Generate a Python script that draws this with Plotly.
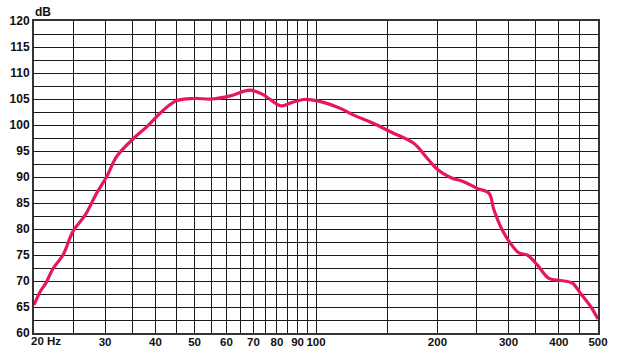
import numpy as np
import plotly.graph_objects as go

freq_hz = [20, 20.7, 21.4, 22.3, 23.6, 25.0, 26.8, 28.6, 30.3, 32.1, 35.3, 38.1,
           41.9, 45.2, 49.7, 55.2, 61.3, 68.7, 74.1, 81.6, 86.3, 93.2, 101.5,
           114.9, 124, 139, 152.9, 174.7, 188.6, 199.7, 215.4, 232.4, 251, 268.2,
           276, 289.5, 303.6, 318.3, 334, 353.6, 377.8, 404, 431.8, 452.7, 479.4, 500]
level_db = [65.4, 67.9, 69.6, 72.4, 75.0, 79.6, 82.7, 86.9, 90.1, 94.0, 97.4, 99.7,
            102.9, 104.7, 105.1, 105.0, 105.6, 106.7, 105.8, 103.7, 104.2, 104.9, 104.6,
            103.2, 101.9, 100.3, 98.7, 96.5, 93.6, 91.5, 89.9, 89.1, 87.8, 86.9,
            83.7, 79.8, 77.2, 75.4, 75.0, 73.1, 70.5, 70.1, 69.6, 67.6, 65.1, 62.7]

x_tick_vals = [30, 40, 50, 60, 70, 80, 90, 100, 200, 300, 400, 500]
x_tick_text = ["30", "40", "50", "60", "70", "80", "90", "100", "200", "300", "400", "500"]
x_minor_vals = [20, 25, 35, 45, 55, 65, 75, 85, 95, 150, 250, 350, 450]
y_tick_vals = list(range(60, 121, 5))

line_color = "#E8175D"
grid_color = "#1a1a1a"
font = dict(family="Liberation Sans, Arial, sans-serif", size=12, color="#111")
xfont = dict(family="Liberation Sans, Arial, sans-serif", size=11.5, color="#111")

fig = go.Figure()
fig.add_trace(go.Scatter(x=freq_hz, y=level_db, mode="lines",
                         line=dict(color=line_color, width=3.2, shape="spline", smoothing=1.0),
                         hoverinfo="skip", showlegend=False))

fig.update_layout(
    width=617, height=349,
    margin=dict(l=34, r=19, t=21, b=16),
    paper_bgcolor="white", plot_bgcolor="white",
    font=font,
    xaxis=dict(type="log", range=[np.log10(20), np.log10(500)],
               tickvals=x_tick_vals, ticktext=["<b>%s</b>" % t for t in x_tick_text],
               tickangle=0, automargin=False, ticklabelstandoff=-3,
               showgrid=True, gridcolor=grid_color, gridwidth=1,
               minor=dict(tickvals=x_minor_vals, showgrid=True, gridcolor=grid_color, gridwidth=1),
               showline=True, linecolor="#333", linewidth=2, mirror=True,
               ticks="", zeroline=False, tickfont=xfont),
    yaxis=dict(range=[60, 120], tickvals=y_tick_vals, automargin=False,
               ticktext=["<b>%d</b>" % v for v in y_tick_vals],
               showgrid=True, gridcolor=grid_color, gridwidth=1,
               minor=dict(dtick=2.5, showgrid=True, gridcolor=grid_color, gridwidth=1),
               showline=True, linecolor="#333", linewidth=2, mirror=True,
               ticks="", zeroline=False, tickfont=font),
)

fig.add_annotation(x=np.log10(20), y=60, xref="x", yref="y", text="<b>20 Hz</b>",
                   showarrow=False, xanchor="left", yanchor="top", xshift=-5, yshift=0,
                   font=xfont)
fig.add_annotation(x=0, y=1, xref="paper", yref="paper", text="<b>dB</b>",
                   showarrow=False, xanchor="left", yanchor="bottom", xshift=-1, yshift=0,
                   font=font)

fig.write_html("out.html")
